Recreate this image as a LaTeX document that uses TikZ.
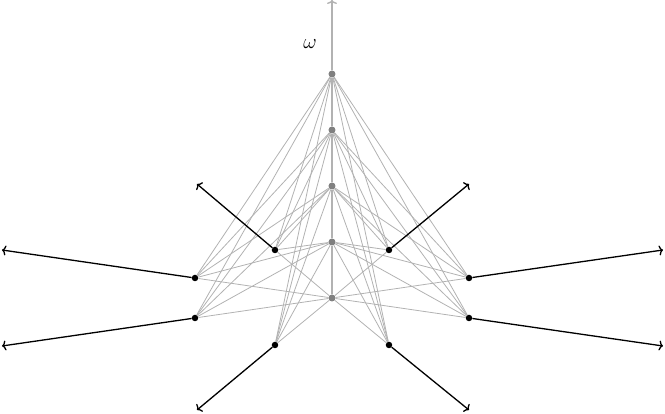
\documentclass[tikz,border=0pt]{standalone}
\usetikzlibrary{arrows.meta}

\begin{document}
\begin{tikzpicture}[x=1pt, y=1pt,
		graydot/.style={circle, fill=black!50, inner sep=0pt, minimum size=7pt},
		blackdot/.style={circle, fill=black, inner sep=0pt, minimum size=6.5pt},
		edge/.style={black!30, line width=0.8pt},
		axis/.style={black!30, line width=1.4pt},
		ray/.style={line width=1.3pt, -{To[length=4pt, width=10pt]}}]

		\pgfmathsetmacro{\levelgap}{56}

		\useasboundingbox (-332, -116) rectangle (333, 298);

		% points on the axis
		\foreach \i in {0, ..., 4}
		{
			\node[graydot] (g\i) at (0, \i * \levelgap) {};
		}

		% outer points
		\foreach \name/\x/\y in {b1/-57/48, b2/57/48, b3/-137/20, b4/137/20, b5/-137/-20, b6/137/-20, b7/-57/-47, b8/57/-47}
		{
			\node[blackdot] (\name) at (\x, \y) {};
		}

		% connect every axis point with every outer point
		\foreach \i in {0, ..., 4}
		{
			\foreach \name in {b1, b2, b3, b4, b5, b6, b7, b8}
			{
				\draw[edge] (g\i) -- (\name);
			}
		}

		% axis
		\coordinate (top) at (0, 298);
		\draw[axis] (g0) -- (g1);
		\draw[axis] (g1) -- (g2);
		\draw[axis] (g2) -- (g3);
		\draw[axis] (g3) -- (g4);
		\draw[axis, -{To[length=4pt, width=10pt]}] (g4) -- (top);
		\node (omega) at (-22, 254) {\huge $\omega$};

		% rays
		\foreach \name/\x/\y in {b1/-135/114, b2/137/114, b3/-330/48, b4/331/48, b5/-330/-48, b6/331/-48, b7/-135/-112, b8/137/-112}
		{
			\coordinate (r\name) at (\x, \y);
			\draw[ray] (\name) -- (r\name);
		}

	\end{tikzpicture}
\end{document}
